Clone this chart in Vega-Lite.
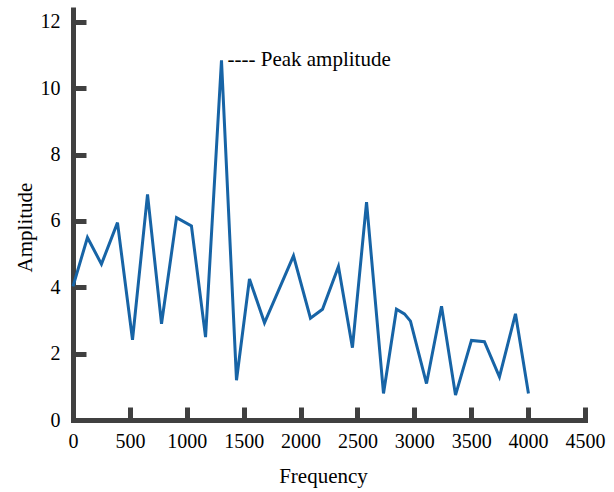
{
  "$schema": "https://vega.github.io/schema/vega-lite/v6.json",
  "width": 512,
  "height": 413,
  "autosize": {"type": "none"},
  "padding": {"left": 73, "top": 7, "right": 29, "bottom": 72},
  "background": "white",
  "config": {
    "view": {"stroke": null},
    "font": "Liberation Serif",
    "axis": {
      "grid": false,
      "domainColor": "#404040",
      "domainWidth": 5,
      "tickColor": "#404040",
      "tickWidth": 5,
      "tickSize": -13,
      "labelFont": "Liberation Serif",
      "labelFontSize": 20,
      "labelColor": "#000000",
      "titleFont": "Liberation Serif",
      "titleFontSize": 21,
      "titleFontWeight": "normal",
      "titleColor": "#000000"
    }
  },
  "datasets": {
    "spectrum": [
      {"Frequency": 0, "Amplitude": 4.03},
      {"Frequency": 127, "Amplitude": 5.5},
      {"Frequency": 250, "Amplitude": 4.7},
      {"Frequency": 391, "Amplitude": 5.95},
      {"Frequency": 523, "Amplitude": 2.42},
      {"Frequency": 655, "Amplitude": 6.8},
      {"Frequency": 778, "Amplitude": 2.9},
      {"Frequency": 910, "Amplitude": 6.1},
      {"Frequency": 1041, "Amplitude": 5.85},
      {"Frequency": 1165, "Amplitude": 2.5},
      {"Frequency": 1305, "Amplitude": 10.84},
      {"Frequency": 1437, "Amplitude": 1.2},
      {"Frequency": 1551, "Amplitude": 4.25},
      {"Frequency": 1683, "Amplitude": 2.93},
      {"Frequency": 1938, "Amplitude": 4.95},
      {"Frequency": 2087, "Amplitude": 3.07},
      {"Frequency": 2193, "Amplitude": 3.34},
      {"Frequency": 2333, "Amplitude": 4.63},
      {"Frequency": 2456, "Amplitude": 2.18},
      {"Frequency": 2580, "Amplitude": 6.57},
      {"Frequency": 2729, "Amplitude": 0.8},
      {"Frequency": 2843, "Amplitude": 3.34},
      {"Frequency": 2913, "Amplitude": 3.2},
      {"Frequency": 2966, "Amplitude": 2.98},
      {"Frequency": 3107, "Amplitude": 1.1},
      {"Frequency": 3239, "Amplitude": 3.43},
      {"Frequency": 3362, "Amplitude": 0.75},
      {"Frequency": 3502, "Amplitude": 2.4},
      {"Frequency": 3616, "Amplitude": 2.36},
      {"Frequency": 3748, "Amplitude": 1.3},
      {"Frequency": 3889, "Amplitude": 3.2},
      {"Frequency": 4003, "Amplitude": 0.8}
    ],
    "note": [
      {"Frequency": 1305, "Amplitude": 10.84, "label": "---- Peak amplitude"}
    ]
  },
  "layer": [
    {
      "data": {"name": "spectrum"},
      "mark": {"type": "line", "color": "#1764a6", "strokeWidth": 3, "strokeJoin": "miter"},
      "encoding": {
        "x": {
          "field": "Frequency",
          "type": "quantitative",
          "scale": {"domain": [0, 4500], "nice": false, "zero": false},
          "axis": {
            "values": [0, 500, 1000, 1500, 2000, 2500, 3000, 3500, 4000, 4500],
            "format": "d",
            "labelFont": "Liberation Serif",
            "labelFontSize": 20,
            "labelPadding": 24,
            "tickSize": -13,
            "domainCap": "square",
            "labelFlush": false,
            "labelOverlap": false,
            "title": "Frequency",
            "titleX": 250,
            "titleY": 62,
            "titleBaseline": "alphabetic",
            "titleAlign": "center"
          }
        },
        "y": {
          "field": "Amplitude",
          "type": "quantitative",
          "scale": {"domain": [0, 12.45], "nice": false, "zero": false},
          "axis": {
            "values": [0, 2, 4, 6, 8, 10, 12],
            "format": "d",
            "labelFont": "Liberation Serif",
            "labelFontSize": 20,
            "labelPadding": 26,
            "tickSize": -13,
            "labelFlush": false,
            "labelOverlap": false,
            "title": "Amplitude",
            "titleX": -42,
            "titleY": 220,
            "titleAngle": -90,
            "titleBaseline": "alphabetic",
            "titleAlign": "center"
          }
        }
      }
    },
    {
      "data": {"name": "note"},
      "mark": {"type": "text", "align": "left", "baseline": "alphabetic", "dx": 6, "dy": 6, "fontSize": 21, "font": "Liberation Serif", "color": "#000000"},
      "encoding": {
        "x": {"field": "Frequency", "type": "quantitative"},
        "y": {"field": "Amplitude", "type": "quantitative"},
        "text": {"field": "label"}
      }
    }
  ]
}
